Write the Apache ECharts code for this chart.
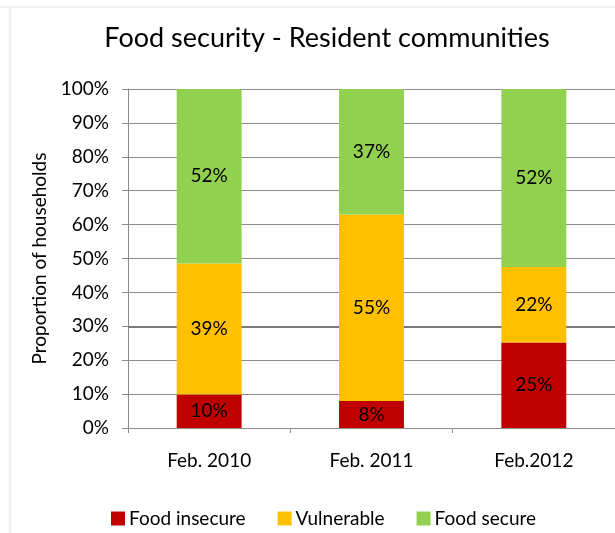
<!DOCTYPE html>
<html>
<head>
<meta charset="utf-8">
<script src="https://cdn.jsdelivr.net/npm/echarts@6/dist/echarts.min.js"></script>
<style>
  html, body { margin: 0; padding: 0; background: #fff; }
  #chart { width: 615px; height: 533px; }
</style>
</head>
<body>
<div id="chart"></div>
<script>
// Survey rounds and household shares (percent) per food-security group
const periods = ['Feb. 2010', 'Feb. 2011', 'Feb.2012'];
const foodInsecure = [10, 8, 25];
const vulnerable = [39, 55, 22];
const foodSecure = [52, 37, 52];
const yTicks = [0, 10, 20, 30, 40, 50, 60, 70, 80, 90, 100];

const groups = [
  { name: 'Food insecure', values: foodInsecure, color: '#C00000' },
  { name: 'Vulnerable', values: vulnerable, color: '#FFC000' },
  { name: 'Food secure', values: foodSecure, color: '#92D050' }
];

// 100% stacked: each column is scaled by its own total
const totals = periods.map((_, i) => groups.reduce((s, g) => s + g.values[i], 0));

const FONT = 'Lato, "Noto Sans", sans-serif';

const series = groups.map((g, gi) => ({
  name: g.name,
  type: 'bar',
  stack: 'share',
  barWidth: '40%',
  z: 3,
  itemStyle: { color: g.color },
  data: g.values.map((v, i) => v / totals[i] * 100),
  label: {
    show: true,
    position: 'inside',
    color: '#000',
    fontFamily: FONT,
    fontSize: 19,
    formatter: p => g.values[p.dataIndex] + '%'
  },
  // slightly heavier 30% reference line, kept behind the columns
  markLine: gi === 0 ? {
    silent: true,
    z: 1,
    symbol: 'none',
    label: { show: false },
    lineStyle: { color: '#7a7a7a', width: 2, type: 'solid' },
    data: [{ yAxis: 30 }]
  } : undefined
}));

const chart = echarts.init(document.getElementById('chart'));
chart.setOption({
  animation: false,
  backgroundColor: '#fff',
  title: {
    text: 'Food security - Resident communities',
    left: 322,
    top: 20,
    textAlign: 'center',
    textStyle: { fontFamily: FONT, fontSize: 27, fontWeight: 'normal', color: '#000' }
  },
  legend: {
    left: 106,
    top: 504,
    icon: 'rect',
    itemWidth: 14,
    itemHeight: 14,
    itemGap: 32,
    textStyle: { fontFamily: FONT, fontSize: 19, color: '#000', padding: [0, 0, 0, -1] },
    data: groups.map(g => g.name)
  },
  grid: { left: 128, top: 89, right: 0, bottom: 105, containLabel: false },
  xAxis: {
    type: 'category',
    data: periods,
    axisLine: { lineStyle: { color: '#8c8c8c' } },
    axisTick: { show: true, length: 5, lineStyle: { color: '#8c8c8c' } },
    axisLabel: { color: '#000', fontFamily: FONT, fontSize: 19, margin: 23 }
  },
  yAxis: {
    type: 'value',
    min: 0,
    max: 100,
    interval: 10,
    name: 'Proportion of households',
    nameLocation: 'middle',
    nameGap: 73,
    nameTextStyle: { fontFamily: FONT, fontSize: 19, color: '#000' },
    axisLine: { show: true, lineStyle: { color: '#8c8c8c' } },
    axisTick: { show: true, length: 6, lineStyle: { color: '#8c8c8c' } },
    splitLine: { lineStyle: { color: '#8c8c8c' } },
    axisLabel: {
      color: '#000',
      fontFamily: FONT,
      fontSize: 19,
      margin: 19,
      formatter: v => (yTicks.includes(v) ? v + '%' : '')
    }
  },
  graphic: [
    { type: 'line', shape: { x1: 0, y1: 7, x2: 615, y2: 7 }, style: { stroke: '#e6e6e6', lineWidth: 1 } },
    { type: 'line', shape: { x1: 10, y1: 7, x2: 10, y2: 533 }, style: { stroke: '#e0e0e0', lineWidth: 1 } }
  ],
  series
});
</script>
</body>
</html>
